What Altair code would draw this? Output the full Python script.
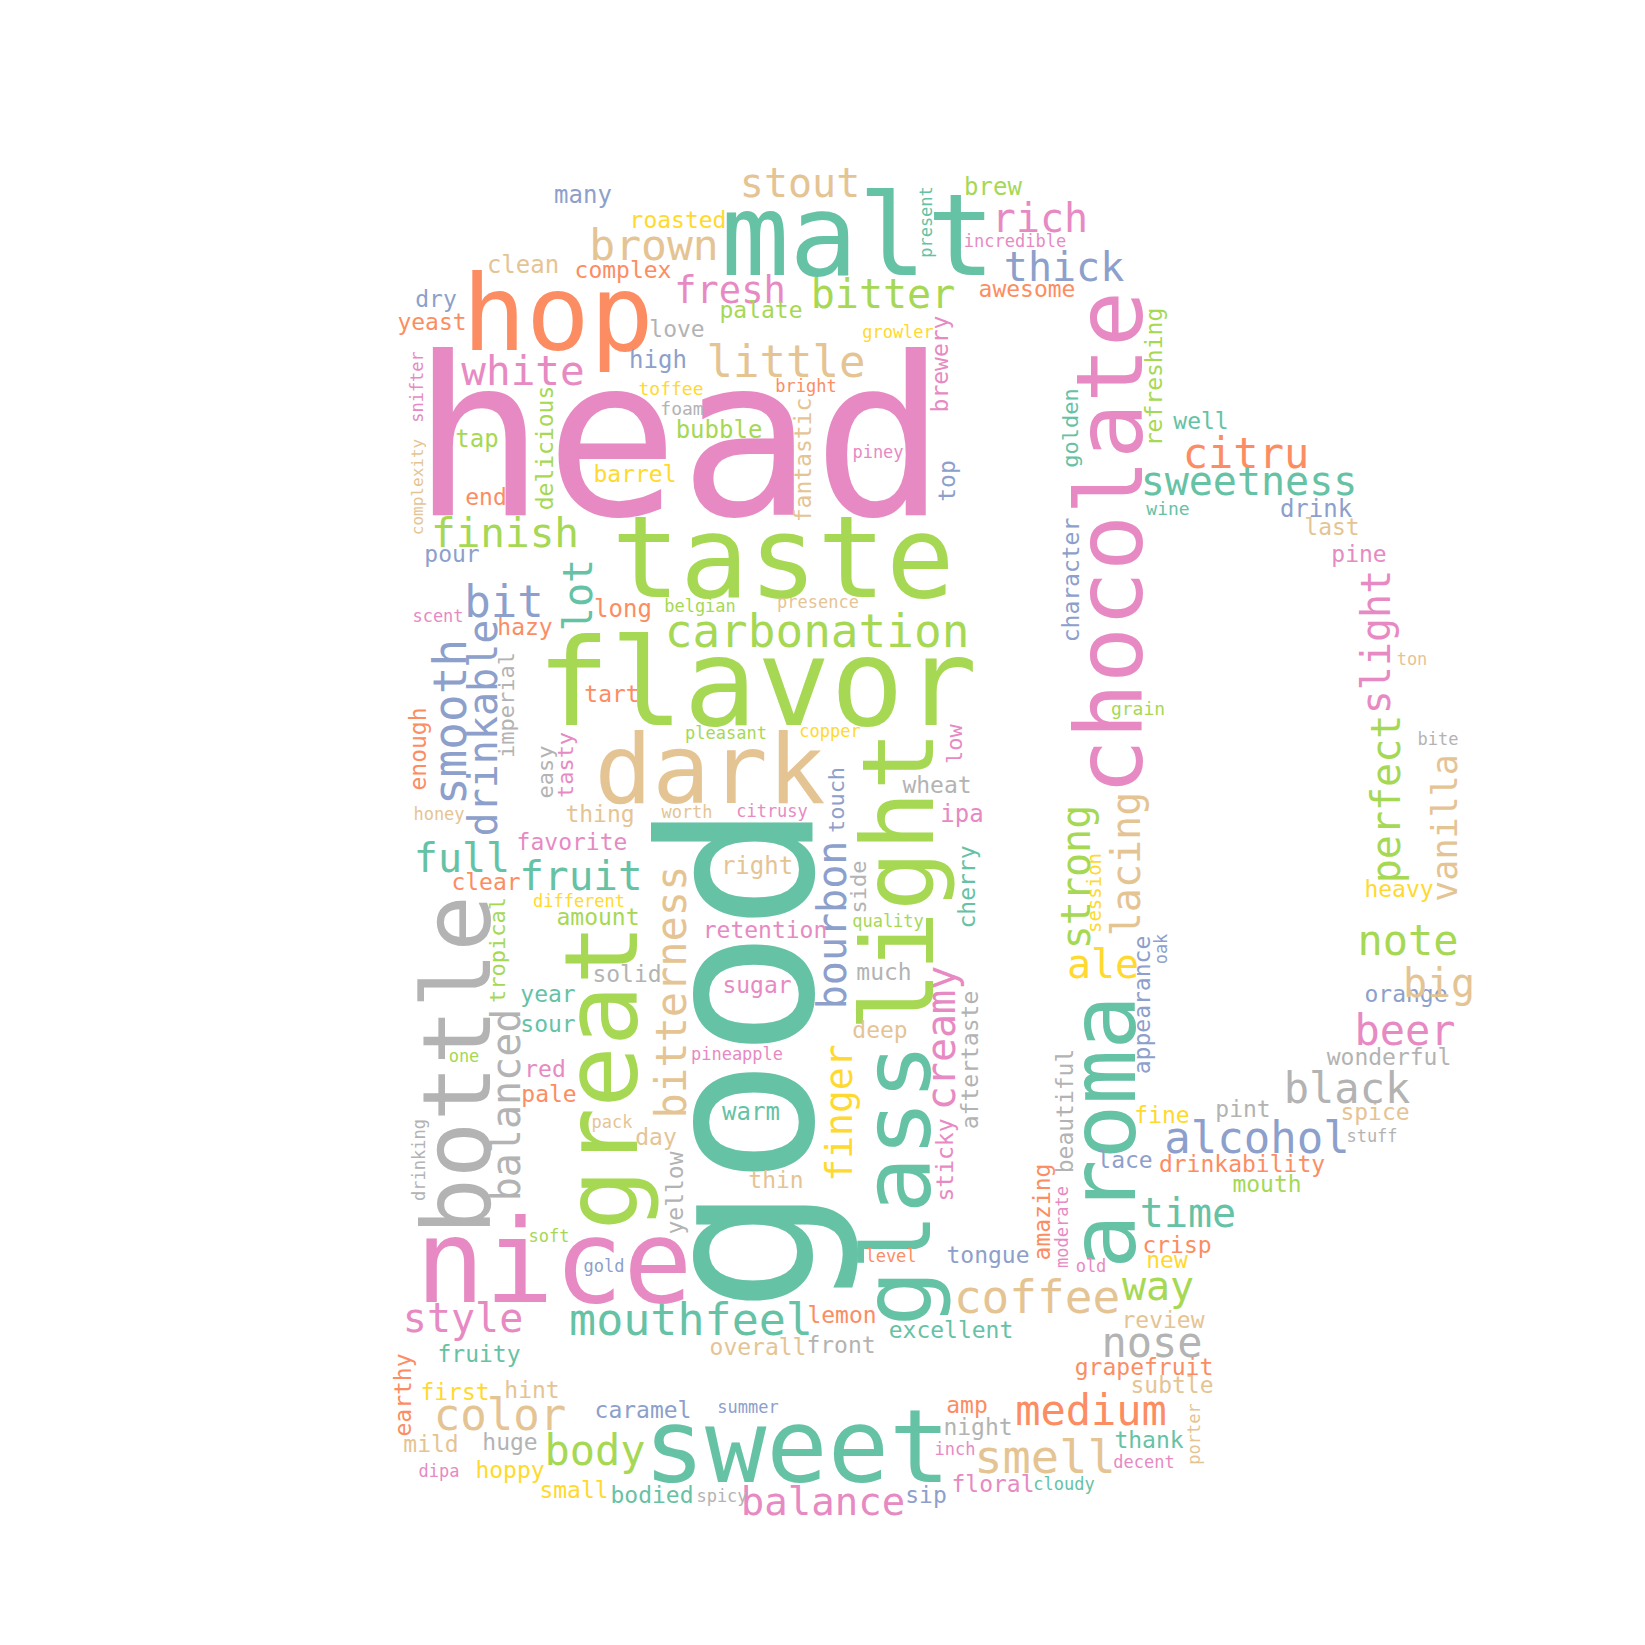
import altair as alt
import pandas as pd

# Set2 palette used by the cloud
palette = {
    "teal": "#66c2a5", "orange": "#fc8d62", "blue": "#8da0cb", "pink": "#e78ac3",
    "green": "#a6d854", "yellow": "#ffd92f", "tan": "#e5c494", "grey": "#b3b3b3",
}

## word, layout x, layout y, font size, orientation (h / v)
## h: x is the word centre, y its baseline; v: x is the baseline, y the centre
teal = [
    ("malt", 858, 275, 114, "h"), ("present", 932, 222, 17, "v"), ("golden", 1078, 428, 22, "v"),
    ("well", 1201, 429, 23, "h"), ("sweetness", 1249, 495, 40, "h"), ("wine", 1168, 515, 18, "h"),
    ("lot", 592, 595, 40, "v"), ("full", 462, 872, 40, "h"), ("fruit", 581, 890, 41, "h"),
    ("good", 812, 1058, 212, "v"), ("cherry", 975, 887, 23, "v"), ("warm", 751, 1120, 24, "h"),
    ("glass", 930, 1185, 94, "v"), ("year", 548, 1002, 23, "h"), ("sour", 548, 1032, 23, "h"),
    ("mouthfeel", 691, 1335, 45, "h"), ("fruity", 479, 1362, 23, "h"), ("excellent", 951, 1338, 23, "h"),
    ("aroma", 1135, 1132, 91, "v"), ("time", 1188, 1227, 40, "h"), ("thank", 1149, 1448, 23, "h"),
    ("cloudy", 1064, 1490, 17, "h"), ("sweet", 797, 1482, 102, "h"), ("bodied", 652, 1503, 23, "h"),
]
orange = [
    ("hop", 558, 350, 106, "h"), ("complex", 623, 278, 23, "h"), ("yeast", 432, 330, 23, "h"),
    ("awesome", 1027, 297, 23, "h"), ("bright", 806, 392, 17, "h"), ("end", 486, 505, 23, "h"),
    ("citru", 1246, 468, 42, "h"), ("long", 623, 617, 24, "h"), ("hazy", 525, 635, 23, "h"),
    ("tart", 612, 702, 23, "h"), ("enough", 426, 749, 23, "v"), ("clear", 486, 890, 23, "h"),
    ("pale", 549, 1102, 23, "h"), ("level", 891, 1262, 17, "h"), ("lemon", 842, 1323, 23, "h"),
    ("amazing", 1050, 1212, 23, "v"), ("drinkability", 1242, 1172, 23, "h"), ("crisp", 1177, 1253, 23, "h"),
    ("grapefruit", 1144, 1375, 23, "h"), ("medium", 1091, 1425, 42, "h"), ("amp", 967, 1413, 23, "h"),
    ("earthy", 411, 1395, 23, "v"),
]
blue = [
    ("many", 583, 203, 24, "h"), ("dry", 436, 307, 23, "h"), ("high", 658, 368, 24, "h"),
    ("thick", 1064, 281, 40, "h"), ("top", 955, 481, 23, "v"), ("drink", 1316, 517, 24, "h"),
    ("character", 1079, 580, 23, "v"), ("pour", 452, 562, 23, "h"), ("bit", 504, 617, 44, "h"),
    ("smooth", 466, 722, 46, "v"), ("drinkable", 497, 728, 40, "v"), ("touch", 844, 800, 22, "v"),
    ("bourbon", 846, 925, 40, "v"), ("gold", 604, 1272, 17, "h"), ("tongue", 988, 1263, 23, "h"),
    ("appearance", 1150, 1005, 23, "v"), ("oak", 1167, 949, 17, "v"), ("orange", 1406, 1002, 23, "h"),
    ("alcohol", 1257, 1153, 44, "h"), ("lace", 1125, 1168, 23, "h"), ("caramel", 643, 1418, 23, "h"),
    ("summer", 748, 1413, 17, "h"), ("sip", 926, 1503, 23, "h"),
]
pink = [
    ("head", 679, 515, 222, "h"), ("fresh", 730, 303, 37, "h"), ("white", 523, 385, 41, "h"),
    ("snifter", 423, 387, 17, "v"), ("rich", 1040, 232, 40, "h"), ("incredible", 1015, 247, 17, "h"),
    ("brewery", 948, 364, 23, "v"), ("piney", 878, 458, 17, "h"), ("chocolate", 1142, 543, 93, "v"),
    ("pine", 1359, 562, 23, "h"), ("slight", 1390, 642, 40, "v"), ("scent", 438, 622, 17, "h"),
    ("tasty", 573, 765, 22, "v"), ("low", 962, 744, 22, "v"), ("ipa", 962, 822, 24, "h"),
    ("citrusy", 772, 817, 17, "h"), ("favorite", 572, 850, 23, "h"), ("retention", 765, 938, 23, "h"),
    ("sugar", 757, 993, 23, "h"), ("creamy", 955, 1038, 40, "v"), ("pineapple", 737, 1060, 17, "h"),
    ("red", 545, 1077, 23, "h"), ("sticky", 953, 1160, 23, "v"), ("moderate", 1068, 1227, 17, "v"),
    ("old", 1091, 1272, 17, "h"), ("nice", 554, 1302, 115, "h"), ("style", 463, 1332, 40, "h"),
    ("beer", 1405, 1045, 42, "h"), ("decent", 1144, 1468, 17, "h"), ("floral", 993, 1492, 23, "h"),
    ("inch", 955, 1455, 17, "h"), ("balance", 823, 1515, 39, "h"), ("dipa", 439, 1477, 17, "h"),
]
green = [
    ("taste", 783, 597, 114, "h"), ("flavor", 757, 725, 122, "h"), ("brew", 993, 195, 24, "h"),
    ("bitter", 883, 308, 40, "h"), ("palate", 761, 318, 23, "h"), ("bubble", 719, 438, 24, "h"),
    ("tap", 477, 447, 24, "h"), ("delicious", 553, 448, 23, "v"), ("refreshing", 1162, 377, 23, "v"),
    ("finish", 505, 547, 41, "h"), ("belgian", 700, 612, 17, "h"), ("carbonation", 817, 647, 46, "h"),
    ("pleasant", 726, 739, 17, "h"), ("light", 933, 881, 100, "v"), ("quality", 888, 927, 17, "h"),
    ("amount", 598, 925, 23, "h"), ("tropical", 505, 950, 22, "v"), ("great", 637, 1077, 102, "v"),
    ("grain", 1138, 715, 18, "h"), ("perfect", 1400, 799, 40, "v"), ("strong", 1090, 877, 40, "v"),
    ("one", 464, 1062, 17, "h"), ("soft", 549, 1242, 17, "h"), ("note", 1408, 955, 42, "h"),
    ("mouth", 1267, 1192, 23, "h"), ("way", 1158, 1300, 40, "h"), ("body", 595, 1465, 42, "h"),
]
yellow = [
    ("roasted", 678, 228, 23, "h"), ("toffee", 671, 395, 18, "h"), ("growler", 898, 338, 17, "h"),
    ("barrel", 635, 482, 23, "h"), ("copper", 830, 737, 17, "h"), ("heavy", 1399, 897, 23, "h"),
    ("session", 1101, 893, 19, "v"), ("different", 579, 907, 17, "h"), ("finger", 852, 1113, 38, "v"),
    ("ale", 1103, 978, 40, "h"), ("fine", 1162, 1123, 23, "h"), ("new", 1167, 1268, 23, "h"),
    ("first", 455, 1400, 23, "h"), ("hoppy", 510, 1478, 23, "h"), ("small", 574, 1498, 23, "h"),
]
tan = [
    ("brown", 654, 260, 43, "h"), ("clean", 523, 273, 24, "h"), ("little", 786, 377, 44, "h"),
    ("stout", 800, 197, 40, "h"), ("complexity", 423, 487, 16, "v"), ("fantastic", 811, 460, 23, "v"),
    ("last", 1332, 535, 23, "h"), ("ton", 1412, 665, 17, "h"), ("lacing", 1140, 864, 40, "v"),
    ("presence", 818, 608, 17, "h"), ("dark", 710, 803, 96, "h"), ("honey", 439, 820, 17, "h"),
    ("thing", 600, 822, 23, "h"), ("worth", 687, 818, 17, "h"), ("right", 757, 874, 24, "h"),
    ("bitterness", 686, 992, 42, "v"), ("deep", 880, 1038, 23, "h"), ("pack", 612, 1128, 17, "h"),
    ("day", 656, 1145, 23, "h"), ("thin", 776, 1188, 23, "h"), ("coffee", 1037, 1313, 46, "h"),
    ("overall", 758, 1355, 23, "h"), ("vanilla", 1457, 828, 35, "v"), ("big", 1439, 997, 40, "h"),
    ("spice", 1375, 1120, 23, "h"), ("review", 1163, 1328, 23, "h"), ("subtle", 1172, 1393, 23, "h"),
    ("porter", 1200, 1434, 17, "v"), ("smell", 1045, 1473, 47, "h"), ("mild", 431, 1452, 23, "h"),
    ("color", 500, 1430, 44, "h"), ("hint", 532, 1398, 23, "h"),
]
grey = [
    ("love", 677, 337, 23, "h"), ("foam", 682, 415, 18, "h"), ("imperial", 514, 705, 22, "v"),
    ("easy", 553, 772, 22, "v"), ("wheat", 937, 793, 23, "h"), ("side", 866, 887, 22, "v"),
    ("much", 884, 980, 23, "h"), ("aftertaste", 978, 1060, 23, "v"), ("bottle", 490, 1065, 94, "v"),
    ("solid", 627, 982, 23, "h"), ("balanced", 520, 1105, 40, "v"), ("drinking", 425, 1160, 17, "v"),
    ("yellow", 683, 1193, 23, "v"), ("beautiful", 1073, 1111, 23, "v"), ("front", 841, 1353, 23, "h"),
    ("bite", 1438, 745, 17, "h"), ("wonderful", 1389, 1065, 23, "h"), ("black", 1347, 1103, 42, "h"),
    ("pint", 1243, 1117, 23, "h"), ("stuff", 1372, 1142, 17, "h"), ("nose", 1152, 1357, 42, "h"),
    ("night", 978, 1435, 23, "h"), ("huge", 510, 1450, 23, "h"), ("spicy", 722, 1502, 17, "h"),
]

groups = {"teal": teal, "orange": orange, "blue": blue, "pink": pink,
          "green": green, "yellow": yellow, "tan": tan, "grey": grey}

rows = []
for tone, words in groups.items():
    for word, x, y, size, orient in words:
        rows.append({"word": word, "x": x, "y": y, "size": size, "tone": tone,
                     "angle": 270 if orient == "v" else 0})
df = pd.DataFrame(rows)

chart = alt.Chart(df).mark_text(
    font="DejaVu Sans Mono", align="center", baseline="alphabetic"
).encode(
    x=alt.X("x:Q", scale=alt.Scale(domain=[8, 1637], nice=False, zero=False), axis=None),
    y=alt.Y("y:Q", scale=alt.Scale(domain=[8, 1637], nice=False, zero=False, reverse=True), axis=None),
    text="word:N",
    size=alt.Size("size:Q", scale=None),
    angle=alt.Angle("angle:Q", scale=None),
    color=alt.Color("tone:N",
                    scale=alt.Scale(domain=list(palette.keys()), range=list(palette.values())),
                    legend=None),
).properties(
    width=1629, height=1629, padding=0,
    autosize=alt.AutoSizeParams(type="none"),
    background="white",
).configure_view(stroke=None)

chart.save("out.html", embed_options={"renderer": "svg", "actions": False})
